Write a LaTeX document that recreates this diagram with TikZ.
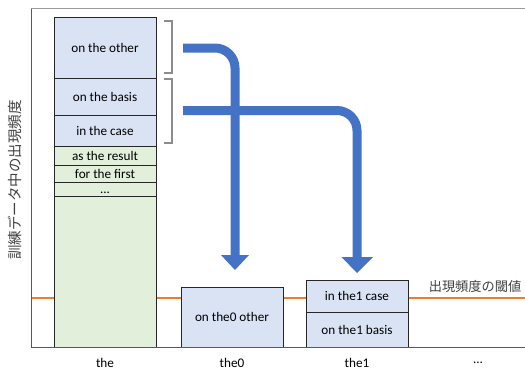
\documentclass[tikz,border=0pt]{standalone}
\usepackage{fontspec}
\setmainfont{Carlito}
\newfontfamily\jpfont{Noto Sans CJK JP}
\definecolor{boxblue}{HTML}{DAE3F3}
\definecolor{boxgreen}{HTML}{E2EFDA}
\definecolor{arrowblue}{HTML}{4472C4}
\definecolor{thrcol}{HTML}{ED7D31}
\definecolor{axisgrey}{HTML}{595959}
\definecolor{brackgrey}{HTML}{8C8C8C}
\begin{document}
\begin{tikzpicture}[x=1pt,y=-1pt,
  every node/.style={font=\fontsize{13.2}{14}\selectfont, inner sep=0pt, outer sep=0pt},
  cellb/.style={draw=black!85, line width=0.8pt, fill=boxblue, anchor=north west},
  cellg/.style={draw=black!85, line width=0.8pt, fill=boxgreen, anchor=north west},
  axisline/.style={draw=axisgrey, line width=0.9pt},
  brack/.style={draw=brackgrey, line width=1.3pt},
  bigarrow/.style={draw=arrowblue, line width=9pt, rounded corners=20pt},
  arrowhead/.style={fill=arrowblue},
  thr/.style={draw=thrcol, line width=2.2pt},
  lbl/.style={anchor=center}
]
\useasboundingbox (0,0) rectangle (525,372);
% threshold line
\coordinate (tl) at (31,298);
\coordinate (tr) at (525,298);
\draw[thr] (tl) -- (tr);
% axes
\coordinate (o) at (31,347);
\coordinate (ytop) at (31,8);
\coordinate (xend) at (525,347);
\coordinate (topend) at (525,8);
\draw[axisline] (o) -- (ytop);
\draw[draw=gray!80, line width=0.9pt] (ytop) -- (topend);
% tall column "the"
\node[cellg, minimum width=102pt, minimum height=201pt] (colg) at (54,146) {};
\node[cellb, minimum width=102pt, minimum height=61pt] (c1) at (54,17) {on the other};
\node[cellb, minimum width=102pt, minimum height=37pt] (c2) at (54,78) {on the basis};
\node[cellb, minimum width=102pt, minimum height=31pt] (c3) at (54,115) {in the case};
\node[cellg, minimum width=102pt, minimum height=19pt] (c4) at (54,146) {as the result};
\node[cellg, minimum width=102pt, minimum height=17pt] (c5) at (54,165) {for the first};
\node[cellg, minimum width=102pt, minimum height=14pt] (c6) at (54,182) {};
\node[anchor=base, text height=3pt, text depth=0pt] (c6t) at (105,193.5) {...};
% the0 box
\node[cellb, minimum width=102pt, minimum height=60pt] (b0) at (181,287) {on the0 other};
% the1 boxes
\node[cellb, minimum width=102pt, minimum height=32pt] (b1a) at (306,280) {in the1 case};
\node[cellb, minimum width=102pt, minimum height=35pt] (b1b) at (306,312) {on the1 basis};
\draw[axisline] (o) -- (xend);
% brackets
\coordinate (br1a) at (164,21);
\coordinate (br1b) at (172,21);
\coordinate (br1c) at (172,73);
\coordinate (br1d) at (164,73);
\draw[brack] (br1a) -- (br1b) -- (br1c) -- (br1d);
\coordinate (br2a) at (164,79);
\coordinate (br2b) at (172,79);
\coordinate (br2c) at (172,143);
\coordinate (br2d) at (164,143);
\draw[brack] (br2a) -- (br2b) -- (br2c) -- (br2d);
% arrows
\coordinate (a1s) at (183,48);
\coordinate (a1c) at (235,48);
\coordinate (a1e) at (235,256);
\draw[bigarrow] (a1s) -- (a1c) -- (a1e);
\fill[arrowhead] (221,255) -- (249,255) -- (235,270) -- cycle;
\coordinate (a2s) at (183,110.5);
\coordinate (a2c) at (357,110.5);
\coordinate (a2e) at (357,258);
\draw[bigarrow] (a2s) -- (a2c) -- (a2e);
\fill[arrowhead] (341.5,257) -- (373,257) -- (357,273) -- cycle;
% labels
\node[lbl] (lthe) at (105,363) {the};
\node[lbl] (lthe0) at (232,363) {the0};
\node[lbl] (lthe1) at (357,363) {the1};
\node[lbl] (ldots) at (478,363) {...};
\node[lbl, font=\jpfont\fontsize{13.2}{14}\selectfont, text=black!75] (thrlbl) at (475,287) {出現頻度の閾値};
\node[lbl, rotate=90, font=\jpfont\fontsize{14.5}{15}\selectfont, text=black!75] (ylbl) at (15,180) {訓練データ中の出現頻度};
\end{tikzpicture}
\end{document}
